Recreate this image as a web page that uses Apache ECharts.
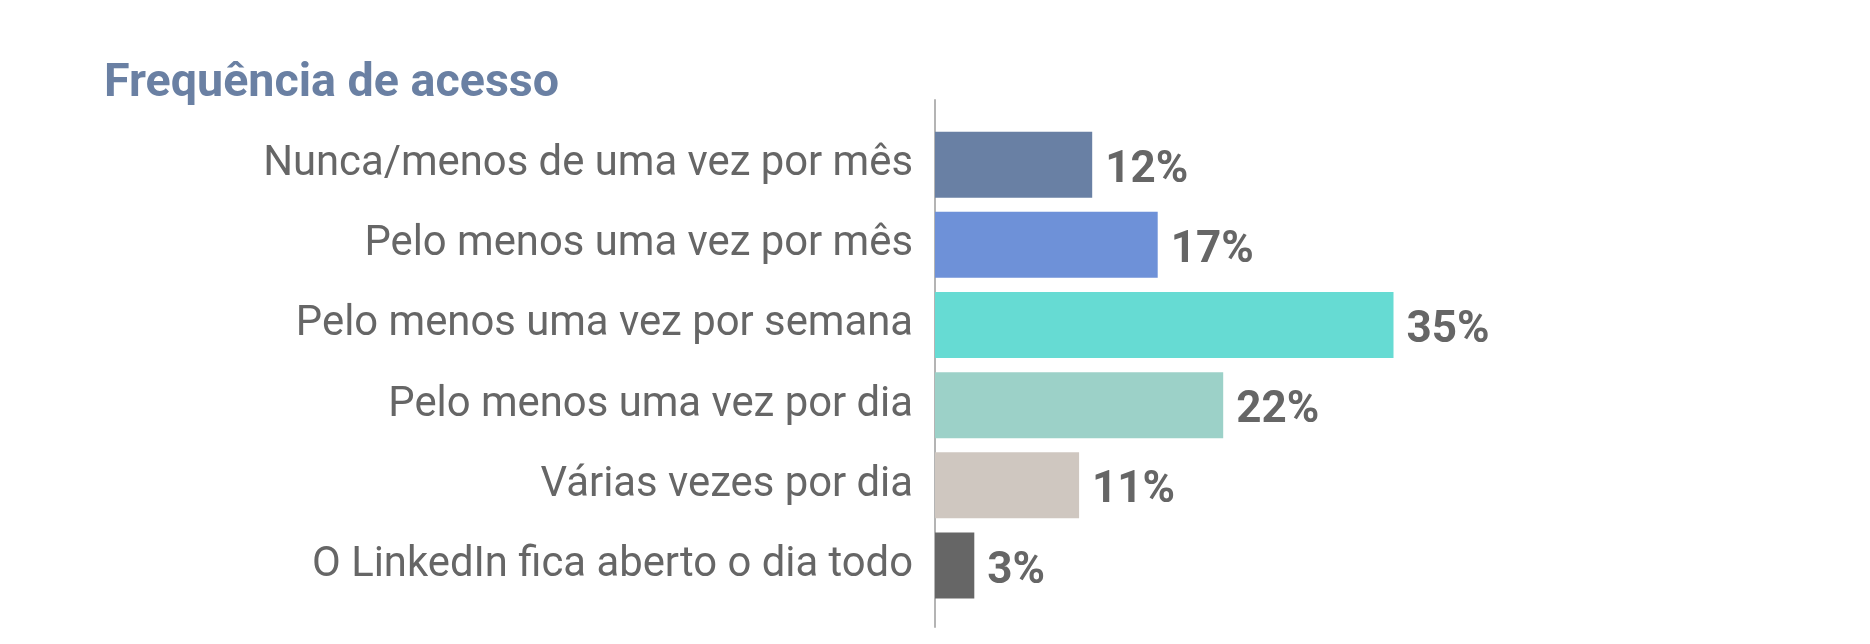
<!DOCTYPE html>
<html>
<head>
<meta charset="utf-8">
<script src="https://cdn.jsdelivr.net/npm/echarts@6/dist/echarts.min.js"></script>
<style>html,body{margin:0;padding:0;background:#fff;}#c{width:1870px;height:644px;}</style>
</head>
<body>
<div id="c"></div>
<script>
const titleText = 'Frequência de acesso';
const categories = [
  'Nunca/menos de uma vez por mês',
  'Pelo menos uma vez por mês',
  'Pelo menos uma vez por semana',
  'Pelo menos uma vez por dia',
  'Várias vezes por dia',
  'O LinkedIn fica aberto o dia todo'
];
const values = [12, 17, 35, 22, 11, 3];
const barColors = ['#6980a4', '#6e91d8', '#66dbd3', '#9cd1c8', '#cfc7c0', '#666666'];

const chart = echarts.init(document.getElementById('c'));
chart.setOption({
  backgroundColor: '#fff',
  animation: false,
  title: {
    text: titleText,
    left: 99,
    top: 56,
    textStyle: { fontFamily: 'Roboto', fontWeight: 'bold', fontSize: 46.6, color: '#6a80a3' }
  },
  grid: [
    { left: 935, right: 411, top: 124.6, bottom: 38.4 },
    { left: 935, right: 411, top: 100, bottom: 17 }
  ],
  xAxis: [
    { gridIndex: 0, type: 'value', min: 0, max: 40, show: false },
    { gridIndex: 1, type: 'value', min: 0, max: 40, show: false }
  ],
  yAxis: [
    {
      gridIndex: 0, type: 'category', data: categories, inverse: true,
      axisLine: { show: false }, axisTick: { show: false },
      axisLabel: { margin: 22, fontFamily: 'Roboto', fontSize: 41.8, color: '#666666', verticalAlign: 'middle' }
    },
    {
      gridIndex: 1, type: 'value', min: 0, max: 1,
      axisLine: { show: true, lineStyle: { color: '#b4b4b4', width: 2 } },
      axisTick: { show: false }, axisLabel: { show: false }, splitLine: { show: false }
    }
  ],
  series: [{
    type: 'bar',
    xAxisIndex: 0, yAxisIndex: 0,
    barWidth: 66,
    data: values.map((v, i) => ({ value: v, itemStyle: { color: barColors[i] } })),
    label: {
      show: true, position: 'right', distance: 13,
      formatter: '{c}%', offset: [0, 6],
      fontFamily: 'Roboto', fontWeight: 'bold', fontSize: 44, color: '#666666'
    }
  }]
});
</script>
</body>
</html>
